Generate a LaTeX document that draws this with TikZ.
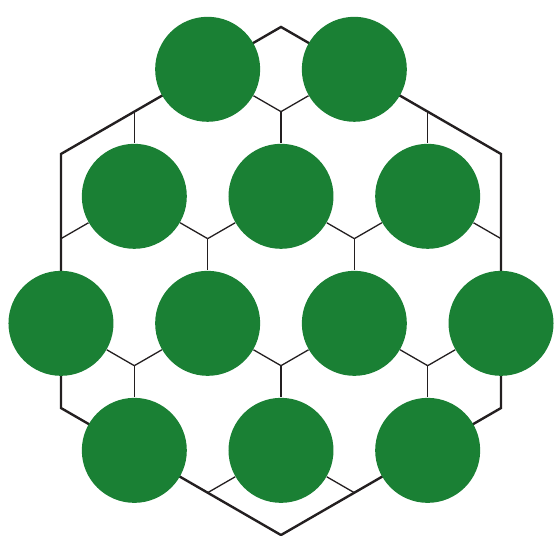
\documentclass[tikz,border=0pt]{standalone}
\usepackage{tikz}
\usetikzlibrary{backgrounds}
\definecolor{atomgreen}{RGB}{26,128,52}
\definecolor{bondink}{RGB}{35,31,32}
\tikzset{
  atom/.style={
    circle, fill=atomgreen, draw=none,
    minimum size=52.5pt, inner sep=0pt
  },
  rim/.style={draw=bondink, line width=1.2pt, line join=miter},
  bond/.style={draw=bondink, line width=0.65pt}
}

\begin{document}
\begin{tikzpicture}[x=36.67pt, y=21.17pt]
  \useasboundingbox (-140.5pt,-127.5pt) rectangle (138.5pt,140.5pt);
  % outer hexagon corners
  \coordinate (h1) at (0,6);
  \coordinate (h2) at (3,3);
  \coordinate (h3) at (3,-3);
  \coordinate (h4) at (0,-6);
  \coordinate (h5) at (-3,-3);
  \coordinate (h6) at (-3,3);
  % ends of bonds on the rim
  \coordinate (e1) at (-2,4);
  \coordinate (e2) at (2,4);
  \coordinate (e3) at (-3,1);
  \coordinate (e4) at (3,1);
  \coordinate (e5) at (-1,-5);
  \coordinate (e6) at (1,-5);
  % inner junctions
  \coordinate (j1) at (0,4);
  \coordinate (j2) at (-1,1);
  \coordinate (j3) at (1,1);
  \coordinate (j4) at (-2,-2);
  \coordinate (j5) at (0,-2);
  \coordinate (j6) at (2,-2);
  % atoms
  \node[atom] (a1) at (-1,5) {};
  \node[atom] (a2) at (1,5) {};
  \node[atom] (a3) at (-2,2) {};
  \node[atom] (a4) at (0,2) {};
  \node[atom] (a5) at (2,2) {};
  \node[atom] (a6) at (-3,-1) {};
  \node[atom] (a7) at (-1,-1) {};
  \node[atom] (a8) at (1,-1) {};
  \node[atom] (a9) at (3,-1) {};
  \node[atom] (a10) at (-2,-4) {};
  \node[atom] (a11) at (0,-4) {};
  \node[atom] (a12) at (2,-4) {};
  \begin{scope}[on background layer]
    \draw[rim] (h1) -- (h2) -- (h3) -- (h4) -- (h5) -- (h6) -- cycle;
    \foreach \u/\v in {e1/a3, a1/j1, j1/a2, j1/a4, e2/a5,
                       a3/e3, a3/j2, j2/a4, a4/j3, j3/a5, a5/e4,
                       j2/a7, j3/a8,
                       a6/j4, j4/a7, a7/j5, j5/a8, a8/j6, j6/a9,
                       j4/a10, j5/a11, j6/a12,
                       e5/a11, a11/e6}
      \draw[bond] (\u) -- (\v);
  \end{scope}
\end{tikzpicture}
\end{document}
